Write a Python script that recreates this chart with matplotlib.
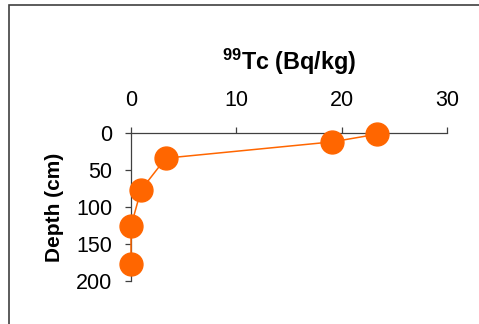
import matplotlib.pyplot as plt
from matplotlib.patches import Rectangle

# data
tc_activity = [23.4, 19.1, 3.3, 0.95, 0.0, 0.0]   # 99Tc (Bq/kg)
depth_cm = [1.5, 12, 34, 77, 126, 177]            # Depth (cm)
x_ticks = [0, 10, 20, 30]
y_ticks = [0, 50, 100, 150, 200]

plt.rcParams['font.family'] = ['Liberation Sans', 'DejaVu Sans']
plt.rcParams['mathtext.fontset'] = 'custom'
plt.rcParams['mathtext.bf'] = 'Liberation Sans:bold'
plt.rcParams['mathtext.rm'] = 'Liberation Sans'

fig = plt.figure(figsize=(4.79, 3.24), dpi=100)
W, H = 479, 324
ax = fig.add_axes([131 / W, 1 - 281 / H, (447 - 131) / W, (281 - 133) / H])

ax.plot(tc_activity, depth_cm, '-o', color='#FF6600', linewidth=1.1,
        markersize=16.5, clip_on=False, zorder=3)

ax.set_xlim(0, 30)
ax.set_ylim(200, 0)
ax.set_xticks(x_ticks)
ax.set_yticks(y_ticks)

ax.xaxis.tick_top()
ax.xaxis.set_label_position('top')
for s in ['right', 'bottom']:
    ax.spines[s].set_visible(False)
for s in ['top', 'left']:
    ax.spines[s].set_color('#404040')
    ax.spines[s].set_linewidth(0.9)

ax.tick_params(axis='x', direction='out', length=4.5, width=0.9, color='#404040',
               labelsize=15.5, pad=11.5)
ax.tick_params(axis='y', direction='out', length=4, width=0.9, color='#404040',
               labelsize=15.5, pad=9.5)

ax.set_xlabel(r'$^{\mathbf{99}}$Tc (Bq/kg)', fontsize=16.8, fontweight='bold', labelpad=14)
ax.set_ylabel('Depth (cm)', fontsize=15, fontweight='bold', labelpad=9)

# outer frame of the chart area (partly cut off)
fig.patches.append(Rectangle((9 / W, -0.1), 1.2, 1 - 5 / H + 0.1,
                             transform=fig.transFigure, fill=False,
                             edgecolor='#404040', linewidth=1.2))

fig.savefig('out.png', dpi=100)
